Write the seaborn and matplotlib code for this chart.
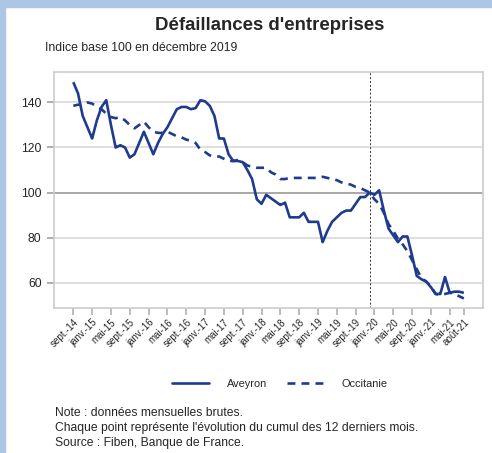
import pandas as pd
import matplotlib.pyplot as plt
import seaborn as sns
from matplotlib.patches import Rectangle

# monthly index, base 100 in Dec 2019, from sept. 2014 to août 2021
aveyron = [149, 144, 134, 129, 124, 132, 138, 141, 130, 120,
           121, 120, 115.5, 117, 122, 127, 122, 117, 122, 126,
           129, 133, 137, 138, 138, 137, 137.5, 141, 140.5, 138.5,
           134, 124, 124, 117, 114, 114, 113.5, 110, 106, 97,
           95, 99, 97.5, 96, 94.5, 95.5, 89, 89, 89, 91,
           87, 87, 87, 78, 83, 87, 89, 91, 92, 92,
           95, 98, 98, 100, 99, 101, 92, 84, 81, 78,
           80.5, 80.5, 72, 63, 61.5, 60.5, 58, 55, 55, 62.5,
           55.5, 56, 56, 55.5]
occitanie = [138.5, 139, 139, 140, 139.5, 138, 137, 135, 133.5, 133,
             133.5, 132, 130, 128.5, 130, 131.5, 129, 127, 126.5, 126.5,
             127, 126, 125, 124.5, 123.5, 123, 122, 119, 118, 116.5,
             116, 116, 115, 114, 114, 114.5, 113.5, 112, 111.5, 111,
             111, 111, 109, 108, 106, 106, 106.5, 106.5, 106.5, 106.5,
             106.5, 106.5, 106.5, 107, 106.5, 106, 105.5, 104.5, 104, 103.5,
             102.5, 102, 101, 100, 97, 95, 91, 86, 83, 79.5,
             77, 74, 70, 66, 62, 60.5, 58.5, 55, 54.5, 55,
             55.5, 55, 54, 53]

tick_pos = [0, 4, 8, 12, 16, 20, 24, 28, 32, 36, 40, 44,
            48, 52, 56, 60, 64, 68, 72, 76, 80, 83]
tick_labels = ["sept.-14", "janv.-15", "mai-15", "sept.-15", "janv.-16", "mai-16",
               "sept.-16", "janv.-17", "mai-17", "sept.-17", "janv.-18", "mai-18",
               "sept.-18", "janv.-19", "mai-19", "sept.-19", "janv.-20", "mai-20",
               "sept.-20", "janv.-21", "mai-21", "août-21"]
base_month = 63  # déc. 2019

df = pd.DataFrame({"mois": list(range(len(aveyron))) * 2,
                   "indice": aveyron + occitanie,
                   "zone": ["Aveyron"] * len(aveyron) + ["Occitanie"] * len(occitanie)})

sns.set_style("white")
plt.rcParams['font.family'] = ['Liberation Sans', 'DejaVu Sans']

fig = plt.figure(figsize=(4.92, 4.53), dpi=100)
ax = fig.add_axes([0.1098, 0.3208, 0.8712, 0.5202])

# blue frame on top and left
fig.patches.append(Rectangle((0, 1 - 7 / 453), 1, 7 / 453, transform=fig.transFigure,
                             color="#adc6e5", zorder=0))
fig.patches.append(Rectangle((0, 0), 5 / 492, 1, transform=fig.transFigure,
                             color="#adc6e5", zorder=0))

blue = "#1f3b8e"
sns.lineplot(data=df, x="mois", y="indice", hue="zone", style="zone",
             palette=[blue, blue], dashes=[(1, 0), (3, 2.3)], linewidth=1.9,
             ax=ax, legend=False, zorder=3)

for y in [60, 80, 120, 140]:
    ax.axhline(y, color="#dcdcdc", lw=1.3, zorder=1)
ax.axhline(100, color="#a0a0a0", lw=1.3, zorder=1)
ax.axvline(base_month, color="#333333", lw=0.7, ls=(0, (2, 2)), zorder=2)

ax.set_xlim(-4.1, 87)
ax.set_ylim(48.9, 153.5)
ax.set_yticks([60, 80, 100, 120, 140])
ax.set_xticks(tick_pos)
ax.set_xticklabels(tick_labels, rotation=45, ha="right", rotation_mode="anchor", fontsize=7)
ax.tick_params(axis="y", labelsize=8.7, length=5, width=1.2, color="#a0a0a0", direction="out", pad=4)
ax.tick_params(axis="x", length=5, width=1.2, color="#b0b0b0", direction="out", pad=2)
ax.tick_params(left=True, bottom=True)
for s in ax.spines.values():
    s.set_color("#cccccc")
    s.set_linewidth(1.2)
ax.set_xlabel("")
ax.set_ylabel("")

fig.text(0.549, 0.943, "Défaillances d'entreprises", ha="center", va="center",
         fontsize=13.4, fontweight="bold")
fig.text(0.092, 0.894, "Indice base 100 en décembre 2019", ha="left", va="center", fontsize=8.8)

handles = [plt.Line2D([], [], color=blue, lw=1.9),
           plt.Line2D([], [], color=blue, lw=1.9, dashes=(3, 2.3))]
fig.legend(handles, ["Aveyron", "Occitanie"], loc="center", bbox_to_anchor=(0.569, 0.152),
           ncol=2, frameon=False, fontsize=7.9, handlelength=3.4, handletextpad=1.6,
           columnspacing=1.8)

notes = ["Note : données mensuelles brutes.",
         "Chaque point représente l'évolution du cumul des 12 derniers mois.",
         "Source : Fiben, Banque de France."]
for i, line in enumerate(notes):
    fig.text(0.112, 1 - (413 + 15 * i) / 453, line, ha="left", va="center", fontsize=8.7)

fig.savefig("out.png", dpi=100)
